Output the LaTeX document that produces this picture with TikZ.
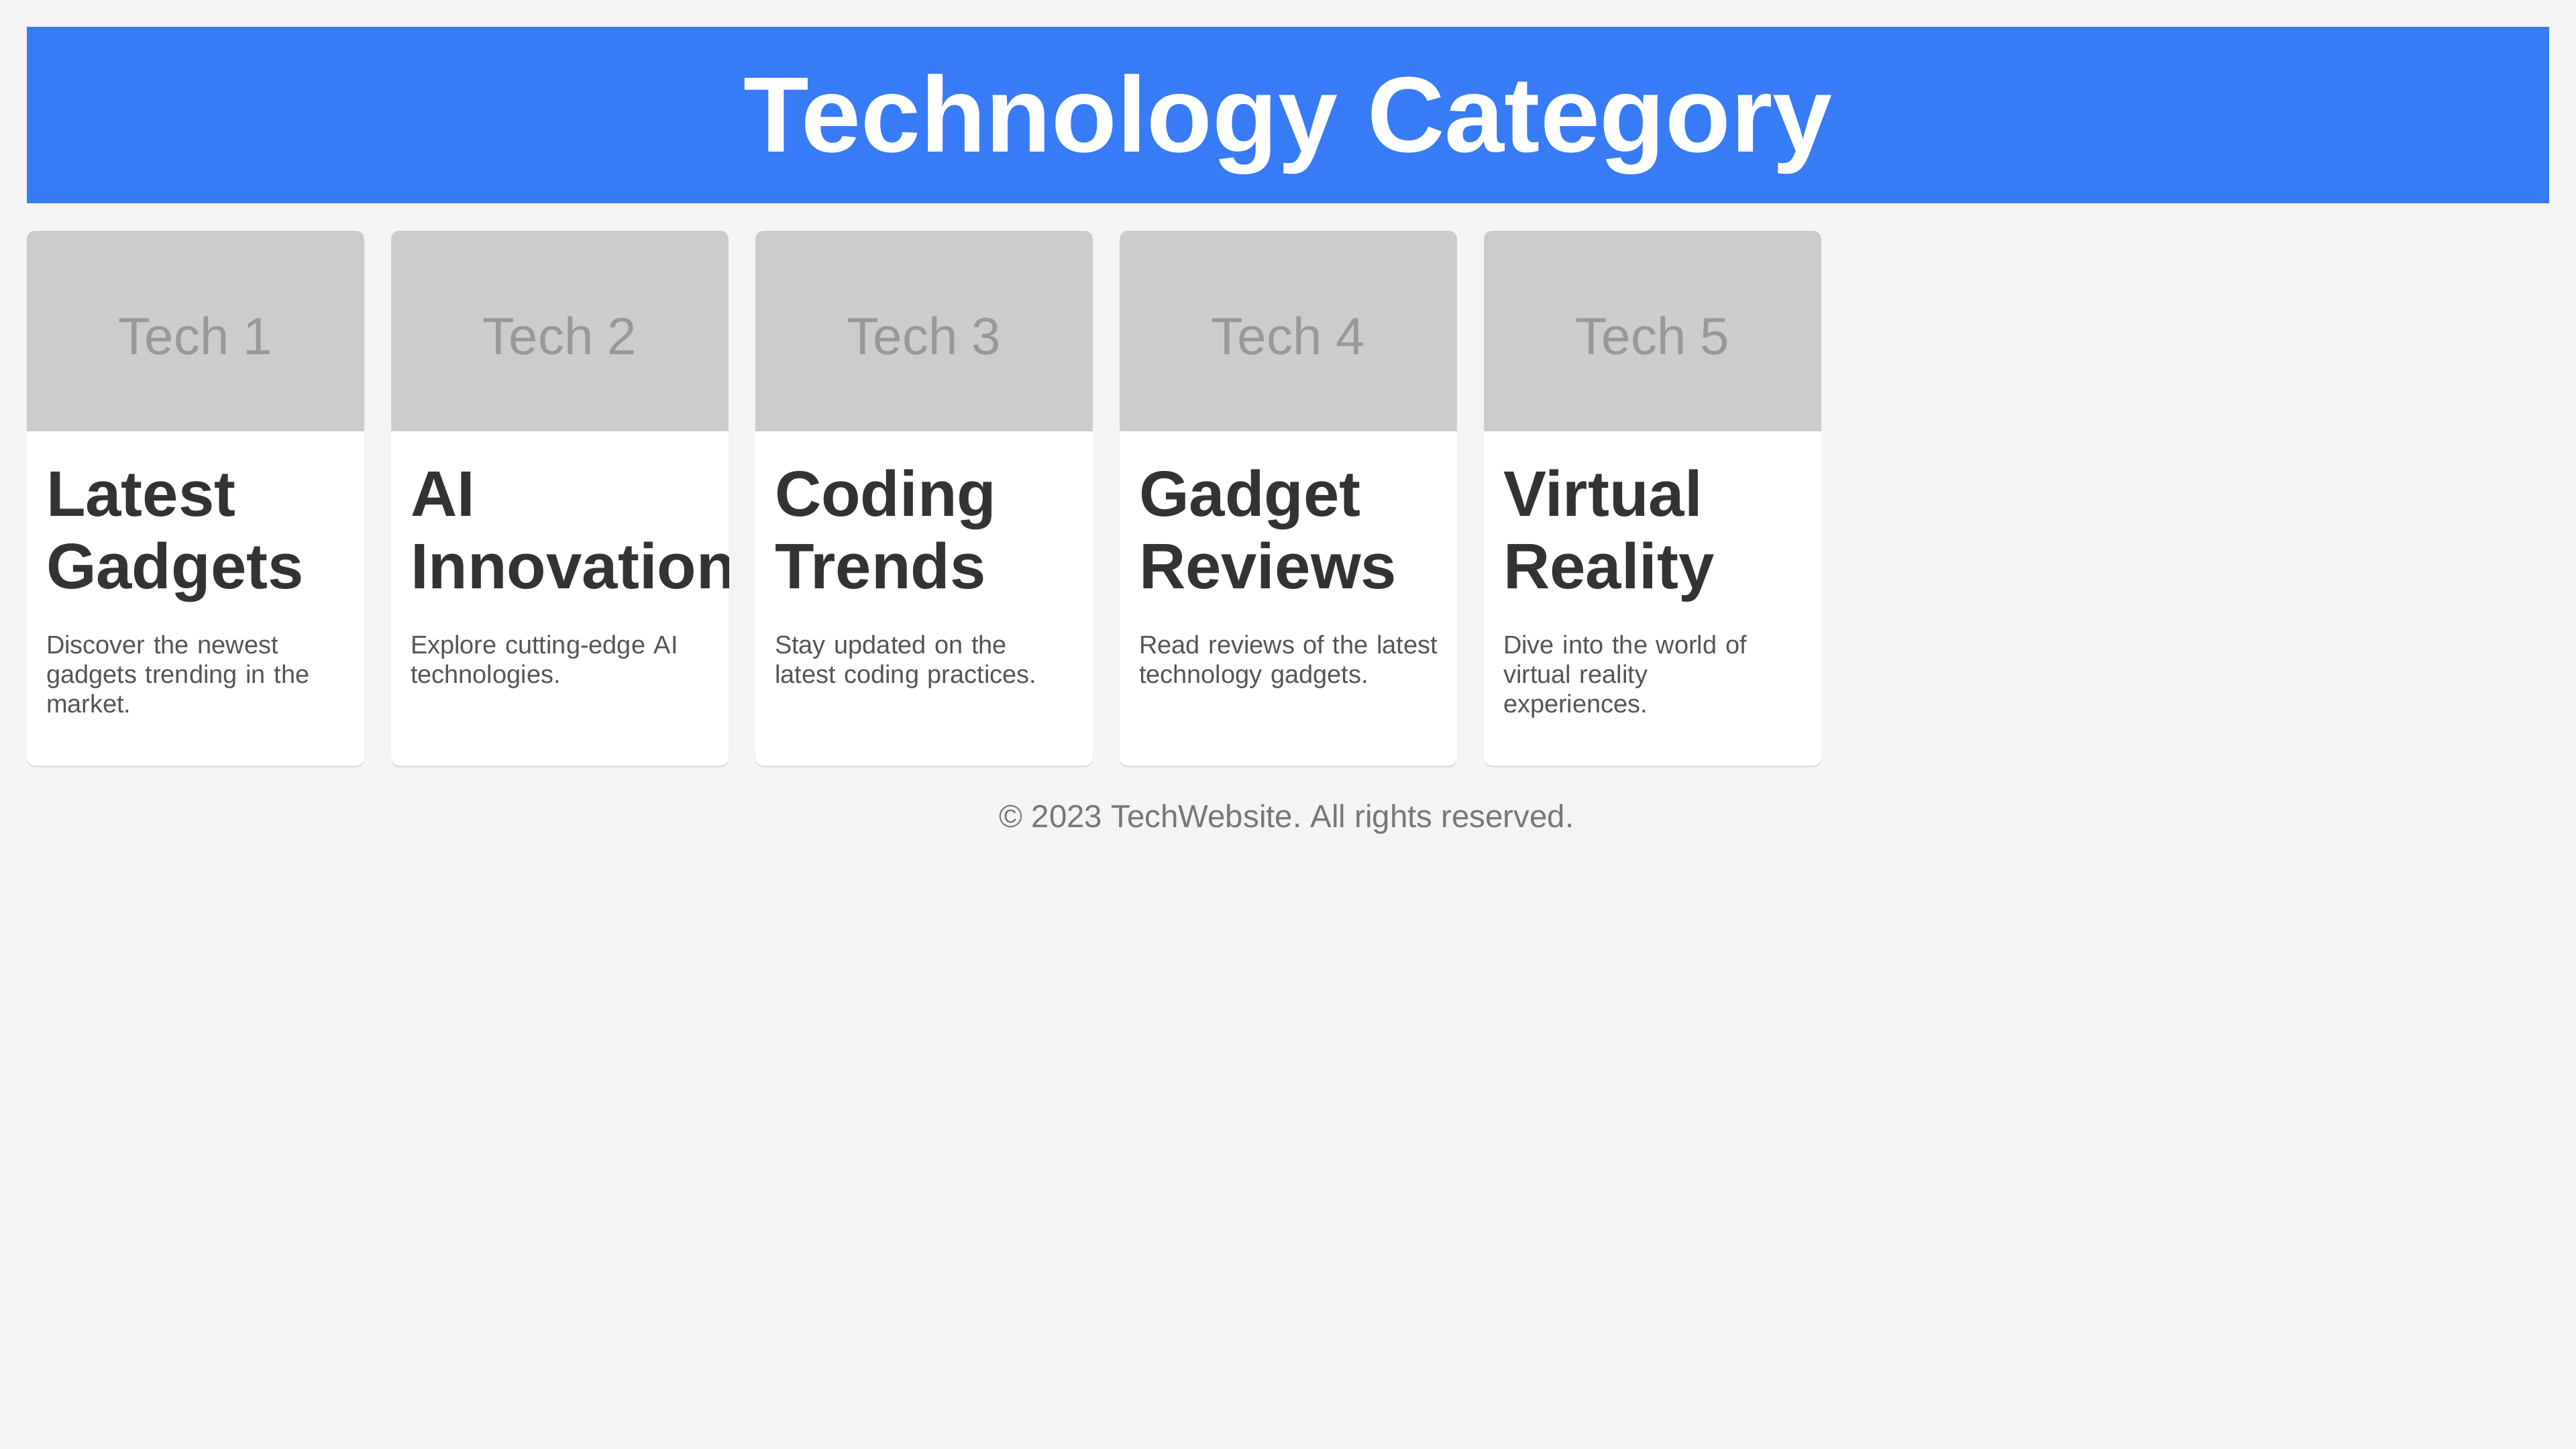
\documentclass[tikz,border=0pt]{standalone}
\usepackage{fontspec}
\setmainfont{Liberation Sans}
\usetikzlibrary{positioning,shadows}

\definecolor{pagebg}{HTML}{F4F4F4}
\definecolor{bannerblue}{HTML}{377BF7}
\definecolor{thumbgray}{HTML}{CCCCCC}
\definecolor{thumbtext}{HTML}{999999}
\definecolor{headtext}{HTML}{333333}
\definecolor{blurbtext}{HTML}{555555}
\definecolor{foottext}{HTML}{777777}
\frenchspacing
\hyphenpenalty=10000

\begin{document}
\begin{tikzpicture}[node distance=5.43cm,on grid,
    banner/.style={fill=bannerblue,minimum width=37.6cm,minimum height=2.63cm,inner sep=0pt},
    title/.style={text=white,font=\bfseries\fontsize{45.5pt}{52pt}\selectfont,inner sep=0pt,anchor=base},
    card/.style={fill=white,rounded corners=0.12cm,minimum width=5.03cm,minimum height=7.97cm,inner sep=0pt,
        drop shadow={shadow xshift=0cm,shadow yshift=-0.03cm,opacity=0.08,fill=black},
        path picture={\fill[thumbgray,sharp corners] (path picture bounding box.north west)
            rectangle ([yshift=-2.99cm]path picture bounding box.north east);}},
    thumb/.style={text=thumbtext,font=\fontsize{22.2pt}{26pt}\selectfont,inner sep=0pt,anchor=base},
    cardhead/.style={text=headtext,font=\bfseries\fontsize{27.3pt}{30.73pt}\selectfont,
        text width=4.45cm,align=left,inner sep=0pt,anchor=base west},
    blurb/.style={text=blurbtext,font=\fontsize{10.8pt}{12.52pt}\selectfont,
        text width=4.6cm,align=left,inner sep=0pt,anchor=base west},
    footer/.style={text=foottext,font=\fontsize{13.5pt}{16pt}\selectfont,inner sep=0pt,anchor=base}]
    \useasboundingbox (0,0) rectangle (38.4,-21.6);
    \fill[pagebg] (0,0) rectangle (38.4,-21.6);

    % header
    \node[banner] (banner) at (19.2,-1.715) {};
    \node[title] (title) at ([yshift=-0.555cm]banner.center) {Technology Category};

    % cards
    \node[card] (c1) at (2.915,-7.425) {};
    \node[card] (c2) [right=of c1] {};
    \node[card] (c3) [right=of c2] {};
    \node[card] (c4) [right=of c3] {};
    \node[card] (c5) [right=of c4] {};

    \node[thumb] (t1) at ([yshift=-1.85cm]c1.north) {Tech 1};
    \node[thumb] (t2) at ([yshift=-1.85cm]c2.north) {Tech 2};
    \node[thumb] (t3) at ([yshift=-1.85cm]c3.north) {Tech 3};
    \node[thumb] (t4) at ([yshift=-1.85cm]c4.north) {Tech 4};
    \node[thumb] (t5) at ([yshift=-1.85cm]c5.north) {Tech 5};

    \begin{scope}
        \clip (c1.south west) rectangle (c1.north east) (c2.south west) rectangle (c2.north east)
              (c3.south west) rectangle (c3.north east) (c4.south west) rectangle (c4.north east)
              (c5.south west) rectangle (c5.north east);
        \node[cardhead] (h1) at ([xshift=0.29cm,yshift=-4.26cm]c1.north west) {Latest\\Gadgets};
        \node[cardhead] (h2) at ([xshift=0.29cm,yshift=-4.26cm]c2.north west) {AI\\Innovation};
        \node[cardhead] (h3) at ([xshift=0.29cm,yshift=-4.26cm]c3.north west) {Coding\\Trends};
        \node[cardhead] (h4) at ([xshift=0.29cm,yshift=-4.26cm]c4.north west) {Gadget\\Reviews};
        \node[cardhead] (h5) at ([xshift=0.29cm,yshift=-4.26cm]c5.north west) {Virtual\\Reality};
    \end{scope}

    \node[blurb] (b1) at ([xshift=0.29cm,yshift=-6.31cm]c1.north west) {Discover the newest\\gadgets trending in the\\market.};
    \node[blurb] (b2) at ([xshift=0.29cm,yshift=-6.31cm]c2.north west) {Explore cutting-edge AI\\technologies.};
    \node[blurb] (b3) at ([xshift=0.29cm,yshift=-6.31cm]c3.north west) {Stay updated on the\\latest coding practices.};
    \node[blurb] (b4) at ([xshift=0.29cm,yshift=-6.31cm]c4.north west) {Read reviews of the latest\\technology gadgets.};
    \node[blurb] (b5) at ([xshift=0.29cm,yshift=-6.31cm]c5.north west) {Dive into the world of\\virtual reality\\experiences.};

    % footer
    \node[footer] (foot) at (19.18,-12.33) {© 2023 TechWebsite. All rights reserved.};
\end{tikzpicture}
\end{document}
